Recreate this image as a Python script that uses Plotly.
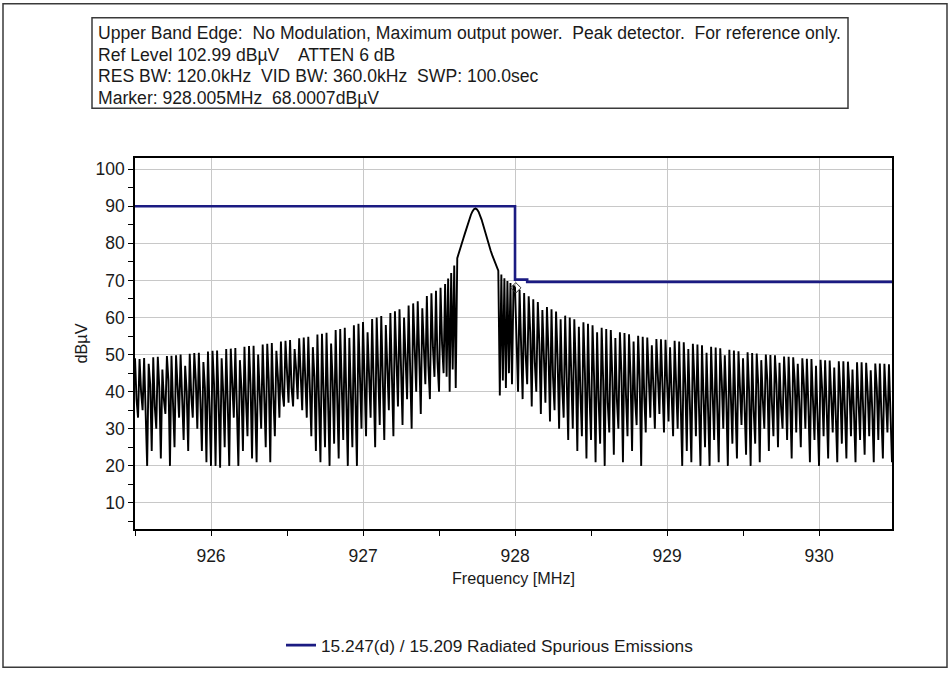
import numpy as np
import plotly.graph_objects as go

# ---- Sweep settings -------------------------------------------------------
sweep_start_mhz = 925.50
sweep_step_mhz = 0.01

# ---- Measured trace (dBµV) -----------------------------------------------
# Lower skirt: per spike group -> peak, mid-band, trough
lower_skirt_peak = [
    49.0, 48.8, 49.1, 47.5, 49.3, 49.4, 46.0, 49.6, 49.7, 49.8,
    50.0, 47.0, 50.2, 50.4, 50.5, 48.0, 50.8, 51.0, 51.1, 49.0,
    51.5, 51.6, 51.8, 48.5, 52.1, 52.3, 52.4, 50.0, 52.7, 52.9,
    53.1, 51.0, 53.5, 53.7, 53.9, 51.5, 54.4, 54.6, 54.8, 52.0,
    55.4, 55.6, 55.9, 53.0, 56.6, 56.9, 57.2, 54.5, 57.9, 58.3,
    58.8, 56.0, 59.6, 60.0, 60.4, 58.0, 61.2, 61.7, 62.2, 60.0,
    63.2, 63.8, 64.4, 62.5, 65.8, 66.5, 67.2, 68.0,
]
lower_skirt_mid = [
    38, 40, 37, 42, 36, 41, 38, 43, 37, 42,
    36, 40, 39, 43, 38, 41, 36, 42, 38, 40,
    37, 43, 39, 41, 38, 42, 37, 40, 38, 43,
    39, 44, 40, 45, 41, 46, 42, 45, 39, 44,
    38, 42, 37, 43, 39, 44, 38, 42, 40, 45,
    41, 46, 40, 45, 42, 47, 43, 48, 44, 49,
    45, 50, 46, 51, 47, 52, 48, 53,
]
lower_skirt_low = [
    33, 35, 20, 24, 30, 22, 34, 20, 25, 33,
    27, 24, 33, 30, 24, 21, 20, 20, 19.5, 25,
    20, 33, 20, 24, 28, 22, 21, 30, 25, 21,
    28, 33, 36, 37, 36, 38, 35, 33, 28, 24,
    21, 25, 20, 26, 22, 27, 20, 25, 20, 30,
    28, 33, 25, 31, 27, 35, 28, 36, 31, 38,
    30, 40, 34, 42, 38, 44, 40, 45,
]

# Carrier region, 927.54 .. 928.00 MHz
carrier_trace = [
    69.0, 44.0, 70.5, 40.0, 72.0, 46.0, 74.0, 41.0, 76.0, 77.5,
    78.8, 80.0, 81.3, 82.6, 84.0, 85.3, 86.6, 87.7, 88.6, 89.2,
    89.4, 89.1, 88.5, 87.6, 86.4, 85.0, 83.5, 82.0, 80.6, 79.3,
    78.0, 76.8, 75.6, 74.5, 73.5, 72.6, 39.0, 71.6, 43.0, 70.6,
    41.0, 69.8, 45.0, 69.3, 42.0, 68.6, 68.0,
]

# Upper skirt: two lead-in samples, then peak, mid-band, trough groups
upper_skirt_lead = [52.0, 40.0]
upper_skirt_peak = [
    67.5, 66.6, 65.7, 64.9, 64.2, 62.0, 62.8, 62.2, 61.6, 59.5,
    60.5, 60.0, 59.5, 57.5, 58.7, 58.3, 57.9, 56.0, 57.2, 56.9,
    56.6, 54.5, 56.0, 55.8, 55.5, 53.5, 55.1, 54.8, 54.6, 52.5,
    54.2, 54.1, 54.0, 52.0, 53.7, 53.5, 53.3, 51.5, 52.9, 52.7,
    52.5, 50.5, 52.1, 51.9, 51.7, 49.8, 51.3, 51.1, 50.9, 49.0,
    50.6, 50.4, 50.3, 48.5, 50.0, 49.9, 49.8, 47.8, 49.5, 49.4,
    49.3, 47.5, 49.0, 48.9, 48.8, 47.0, 48.6, 48.5, 48.4, 46.5,
    48.2, 48.2, 48.1, 46.0, 47.9, 47.9, 47.8, 45.8, 47.6, 47.6,
    47.5, 47.4,
]
upper_skirt_mid = [
    55, 50, 56, 48, 53, 46, 51, 44, 49, 42,
    47, 41, 46, 40, 45, 39, 44, 38, 43, 37,
    44, 38, 45, 39, 44, 38, 43, 39, 45, 40,
    45, 41, 44, 39, 43, 38, 42, 37, 43, 36,
    41, 35, 42, 37, 43, 38, 41, 36, 42, 37,
    40, 35, 42, 38, 43, 37, 42, 36, 41, 38,
    43, 37, 42, 36, 40, 35, 41, 36, 39, 34,
    40, 35, 41, 34, 39, 33, 40, 35, 41, 34,
    40, 35,
]
upper_skirt_low = [
    38, 42, 36, 40, 34, 37, 32, 35, 30, 33,
    27, 30, 24, 28, 22, 27, 21, 26, 20, 29,
    23, 30, 21, 28, 24, 31, 20, 29, 33, 30,
    34, 29, 32, 28, 30, 20, 24, 21, 28, 20,
    25, 20, 27, 21, 30, 20, 26, 22, 31, 23,
    20, 26, 21, 30, 24, 28, 25, 30, 27, 22,
    29, 25, 30, 21, 27, 20, 28, 22, 29, 21,
    26, 22, 28, 21, 27, 23, 28, 21, 27, 22,
    29, 21,
]

# Limit line: 15.247(d) / 15.209
limit_freq = [925.5, 928.0, 928.0, 928.08, 928.08, 930.48]
limit_level = [90.0, 90.0, 70.2, 70.2, 69.6, 69.6]

# Marker readout
marker_freq = [928.005]
marker_level = [68.0007]

header_lines = [
    "Upper Band Edge:  No Modulation, Maximum output power.  Peak detector.  For reference only.",
    "Ref Level 102.99 dBµV    ATTEN 6 dB",
    "RES BW: 120.0kHz  VID BW: 360.0kHz  SWP: 100.0sec",
    "Marker: 928.005MHz  68.0007dBµV",
]

# ---- Assemble sweep -------------------------------------------------------
level = []
for p, m, lo in zip(lower_skirt_peak, lower_skirt_mid, lower_skirt_low):
    level += [p, m, lo]
level += carrier_trace
level += upper_skirt_lead
for p, m, lo in zip(upper_skirt_peak, upper_skirt_mid, upper_skirt_low):
    level += [p, m, lo]
freq = sweep_start_mhz + sweep_step_mhz * np.arange(len(level))

# ---- Geometry helpers (pixel -> paper) ------------------------------------
W, H = 951, 675
L, R, T, B = 135, 892, 158, 531


def px(x):
    return (x - L) / (R - L)


def py(y):
    return (B - y) / (B - T)


FONT = "Arial, Liberation Sans, sans-serif"
NAVY = "#1b1b82"
TEXT = "#1a1a1a"

fig = go.Figure()

fig.add_trace(go.Scatter(
    x=freq, y=level, mode="lines",
    line=dict(color="black", width=1.9),
    showlegend=False, hoverinfo="skip",
))

fig.add_trace(go.Scatter(
    x=limit_freq, y=limit_level, mode="lines",
    line=dict(color=NAVY, width=2.6),
    name="15.247(d) / 15.209 Radiated Spurious Emissions",
))

fig.add_trace(go.Scatter(
    x=marker_freq, y=marker_level, mode="markers",
    marker=dict(symbol="diamond-open", size=8, color="#333333", line=dict(width=1)),
    showlegend=False,
))

header_y = [32.5, 54.2, 75.9, 97.6]
annotations = [
    dict(xref="paper", yref="paper", x=px(96), y=py(yc),
         xanchor="left", yanchor="middle", align="left", showarrow=False,
         text=line, font=dict(size=17.6, color=TEXT))
    for line, yc in zip(header_lines, header_y)
]

fig.update_layout(
    width=W, height=H, autosize=False,
    margin=dict(l=L, r=W - R, t=T, b=H - B),
    paper_bgcolor="white", plot_bgcolor="white",
    font=dict(family=FONT, size=16, color=TEXT),
    showlegend=True,
    legend=dict(
        x=px(281), y=py(648), xanchor="left", yanchor="middle",
        orientation="h", font=dict(size=17.3), bgcolor="rgba(0,0,0,0)",
    ),
    xaxis=dict(
        range=[925.5, 930.48], tick0=926, dtick=1,
        showgrid=True, gridcolor="#c8c8c8", gridwidth=1,
        showline=True, linecolor="black", linewidth=1.5, mirror=True,
        ticks="outside", ticklen=5, tickcolor="black",
        minor=dict(dtick=0.5, tick0=925.5, ticks="outside", ticklen=5,
                   tickcolor="black", showgrid=False),
        ticklabelstandoff=5,
        tickfont=dict(size=17.5),
        zeroline=False,
        title=dict(text="Frequency [MHz]", standoff=8, font=dict(size=16.2)),
    ),
    yaxis=dict(
        range=[2.99, 102.99], tick0=0, dtick=10,
        showgrid=True, gridcolor="#c8c8c8", gridwidth=1,
        showline=True, linecolor="black", linewidth=1.5, mirror=True,
        ticks="outside", ticklen=5, tickcolor="black",
        minor=dict(dtick=5, tick0=0, ticks="outside", ticklen=5,
                   tickcolor="black", showgrid=False),
        tickfont=dict(size=17.5),
        ticklabelstandoff=0,
        zeroline=False,
        title=dict(text="dBµV", standoff=4, font=dict(size=16.2)),
    ),
    shapes=[
        # outer frame
        dict(type="rect", xref="paper", yref="paper",
             x0=px(3), x1=px(947), y0=py(670), y1=py(3),
             line=dict(color="#3a3a3a", width=1.5), layer="below"),
        # header box
        dict(type="rect", xref="paper", yref="paper",
             x0=px(92), x1=px(848), y0=py(108), y1=py(17),
             line=dict(color="#3a3a3a", width=1.5), layer="below"),
    ],
    annotations=annotations,
)

fig.write_html("out.html")
